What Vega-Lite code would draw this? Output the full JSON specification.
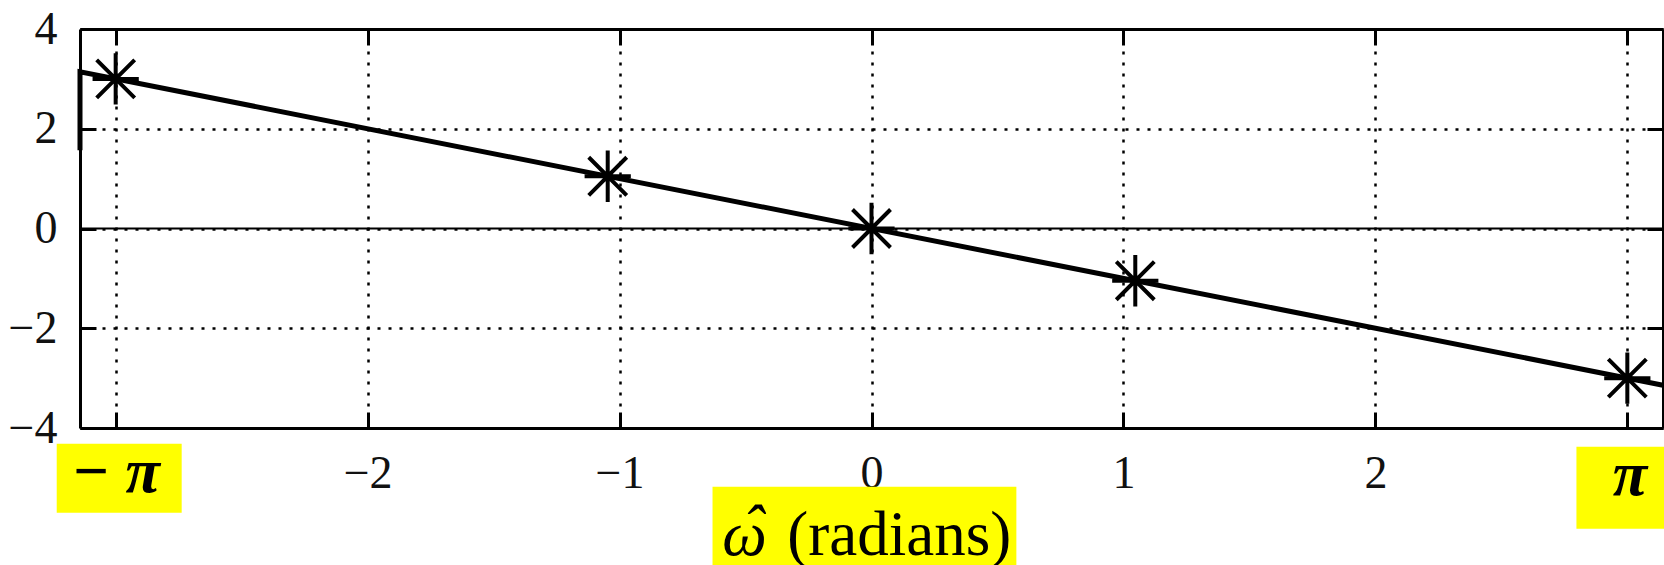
{
  "$schema": "https://vega.github.io/schema/vega-lite/v6.json",
  "width": 1583,
  "height": 399,
  "autosize": "none",
  "padding": {"left": 80, "top": 29, "right": 1, "bottom": 137},
  "background": "white",
  "title": {"text": "Phase Angle of Frequency Response", "anchor": "start", "frame": "group", "dx": 59, "offset": 27, "baseline": "alphabetic", "font": "Liberation Serif", "fontSize": 47, "fontWeight": "normal", "color": "#111"},
  "datasets": {
    "phase": [
      {"o": 1, "w": -3.14159, "p": 1.5708},
      {"o": 2, "w": -3.14159, "p": 3.14159},
      {"o": 3, "w": 3.14159, "p": -3.14159}
    ],
    "samples": [
      {"w": -3.0, "p": 3.0},
      {"w": -1.047, "p": 1.047},
      {"w": 0, "p": 0},
      {"w": 1.047, "p": -1.047},
      {"w": 3.0, "p": -3.0}
    ],
    "zero": [{"p": 0}],
    "boxes": [
      {"x1": -3.234, "x2": -2.738, "y1": -4.317, "y2": -5.70},
      {"x1": 2.798, "x2": 3.4, "y1": -4.378, "y2": -6.02},
      {"x1": -0.631, "x2": 0.575, "y1": -5.18, "y2": -7.0}
    ],
    "labels": [
      {"t": "− π", "x": -3.0, "y": -5.28, "s": "bi"},
      {"t": "π", "x": 3.01, "y": -5.34, "s": "bi"},
      {"t": "ω", "x": -0.504, "y": -6.55, "s": "i"},
      {"t": "ˆ", "x": -0.47, "y": -6.42, "s": "i"},
      {"t": "(radians)", "x": 0.11, "y": -6.55, "s": "n"}
    ]
  },
  "layer": [
    {
      "data": {"name": "boxes"},
      "mark": {"type": "rect", "color": "#FFFF00"},
      "encoding": {
        "x": {"field": "x1", "type": "quantitative", "scale": {"domain": [-3.14159, 3.14159], "nice": false, "zero": false},
              "axis": {"orient": "bottom", "labels": false, "grid": false, "ticks": true, "tickSize": -16, "tickWidth": 3, "tickColor": "black", "domain": true, "domainColor": "black", "domainWidth": 3, "values": [-3, -2, -1, 0, 1, 2, 3], "title": null}},
        "x2": {"field": "x2"},
        "y": {"field": "y1", "type": "quantitative", "scale": {"domain": [-4, 4], "nice": false, "zero": false},
              "axis": {"orient": "left", "labels": false, "grid": false, "ticks": true, "tickSize": -16, "tickWidth": 3, "tickColor": "black", "domain": true, "domainColor": "black", "domainWidth": 3, "values": [-4, -2, 0, 2, 4], "title": null}},
        "y2": {"field": "y2"}
      }
    },
    {
      "data": {"name": "zero"},
      "mark": {"type": "rule", "color": "black", "strokeWidth": 2.2},
      "encoding": {
        "y": {"field": "p", "type": "quantitative", "scale": {"domain": [-4, 4], "nice": false, "zero": false}, "axis": null}
      }
    },
    {
      "data": {"name": "phase"},
      "mark": {"type": "line", "color": "black", "strokeWidth": 5, "strokeCap": "butt"},
      "encoding": {
        "x": {"field": "w", "type": "quantitative", "scale": {"domain": [-3.14159, 3.14159], "nice": false, "zero": false},
              "axis": {"orient": "bottom", "labels": true, "grid": true, "gridDash": [3, 8], "gridWidth": 2.5, "gridColor": "black", "gridOpacity": 1, "ticks": false, "tickSize": 0, "domain": false, "values": [-3, -2, -1, 0, 1, 2, 3], "labelExpr": "abs(datum.value) > 2.5 ? '' : datum.label", "labelFont": "Liberation Serif", "labelFontSize": 46, "labelColor": "#111", "labelBaseline": "alphabetic", "labelPadding": 59, "labelFlush": false, "labelOverlap": false, "title": null}},
        "y": {"field": "p", "type": "quantitative", "scale": {"domain": [-4, 4], "nice": false, "zero": false},
              "axis": {"orient": "left", "labels": true, "grid": true, "gridDash": [3, 8], "gridWidth": 2.5, "gridColor": "black", "gridOpacity": 1, "ticks": false, "tickSize": 0, "domain": false, "values": [-4, -2, 0, 2, 4], "labelFont": "Liberation Serif", "labelFontSize": 46, "labelColor": "#111", "labelBaseline": "middle", "labelPadding": 23, "labelFlush": false, "labelOverlap": false, "title": null}},
        "order": {"field": "o", "type": "quantitative"}
      }
    },
    {
      "data": {"name": "samples"},
      "mark": {"type": "point", "shape": "M0,-1L0,1M-0.9,0L0.9,0M-0.74,-0.74L0.74,0.74M-0.74,0.74L0.74,-0.74", "size": 2640, "filled": false, "stroke": "black", "strokeWidth": 4, "opacity": 1},
      "encoding": {
        "x": {"field": "w", "type": "quantitative", "scale": {"domain": [-3.14159, 3.14159], "nice": false, "zero": false},
              "axis": {"orient": "top", "labels": false, "grid": false, "ticks": true, "tickSize": -16, "tickWidth": 3, "tickColor": "black", "domain": true, "domainColor": "black", "domainWidth": 3, "values": [-3, -2, -1, 0, 1, 2, 3], "title": null}},
        "y": {"field": "p", "type": "quantitative", "scale": {"domain": [-4, 4], "nice": false, "zero": false},
              "axis": {"orient": "right", "labels": false, "grid": false, "ticks": true, "tickSize": -16, "tickWidth": 3, "tickColor": "black", "domain": true, "domainColor": "black", "domainWidth": 3, "values": [-4, -2, 0, 2, 4], "title": null}}
      }
    },
    {
      "data": {"name": "labels"},
      "transform": [{"filter": "datum.s == 'bi'"}],
      "mark": {"type": "text", "font": "Liberation Serif", "fontStyle": "italic", "fontWeight": "bold", "fontSize": 63, "align": "center", "baseline": "alphabetic", "color": "black"},
      "encoding": {
        "x": {"field": "x", "type": "quantitative", "scale": {"domain": [-3.14159, 3.14159], "nice": false, "zero": false}, "axis": null},
        "y": {"field": "y", "type": "quantitative", "scale": {"domain": [-4, 4], "nice": false, "zero": false}, "axis": null},
        "text": {"field": "t"}
      }
    },
    {
      "data": {"name": "labels"},
      "transform": [{"filter": "datum.s == 'i'"}],
      "mark": {"type": "text", "font": "Liberation Serif", "fontStyle": "italic", "fontWeight": "normal", "fontSize": 63, "align": "center", "baseline": "alphabetic", "color": "black"},
      "encoding": {
        "x": {"field": "x", "type": "quantitative", "scale": {"domain": [-3.14159, 3.14159], "nice": false, "zero": false}, "axis": null},
        "y": {"field": "y", "type": "quantitative", "scale": {"domain": [-4, 4], "nice": false, "zero": false}, "axis": null},
        "text": {"field": "t"}
      }
    },
    {
      "data": {"name": "labels"},
      "transform": [{"filter": "datum.s == 'n'"}],
      "mark": {"type": "text", "font": "Liberation Serif", "fontStyle": "normal", "fontWeight": "normal", "fontSize": 63, "align": "center", "baseline": "alphabetic", "color": "black"},
      "encoding": {
        "x": {"field": "x", "type": "quantitative", "scale": {"domain": [-3.14159, 3.14159], "nice": false, "zero": false}, "axis": null},
        "y": {"field": "y", "type": "quantitative", "scale": {"domain": [-4, 4], "nice": false, "zero": false}, "axis": null},
        "text": {"field": "t"}
      }
    }
  ],
  "resolve": {"axis": {"x": "independent", "y": "independent"}},
  "config": {"view": {"stroke": null}, "font": "Liberation Serif"}
}
